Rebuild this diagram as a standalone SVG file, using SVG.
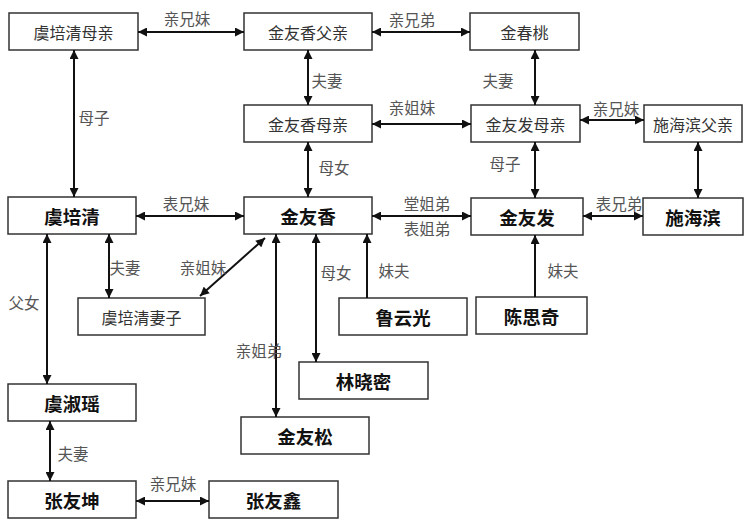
<svg xmlns="http://www.w3.org/2000/svg" width="750" height="526" viewBox="0 0 750 526">
<style>
.box{fill:#fff;stroke:#333;stroke-width:1.5}
.t{font-family:"Noto Sans CJK SC",sans-serif;font-size:16px;fill:#333;text-anchor:middle;dominant-baseline:central}
.b{font-family:"Noto Sans CJK SC",sans-serif;font-size:18.5px;font-weight:bold;fill:#111;text-anchor:middle;dominant-baseline:central}
.l{font-family:"Noto Sans CJK SC",sans-serif;font-size:15.5px;fill:#555;text-anchor:middle;dominant-baseline:central}
.c line{stroke:#111;stroke-width:2;marker-end:url(#ah)}
.c line.d{marker-start:url(#ah)}
</style>
<defs>
<marker id="ah" viewBox="0 0 10 10" refX="10" refY="5" markerWidth="10" markerHeight="9" markerUnits="userSpaceOnUse" orient="auto-start-reverse">
<path d="M0,0 L10,5 L0,10 z" fill="#111"/>
</marker>
</defs>
<rect width="750" height="526" fill="#fff"/>
<g id="n1"><rect class="box" x="9" y="13" width="129" height="37"/><text class="t" x="73.5" y="32">虞培清母亲</text></g>
<g id="n2"><rect class="box" x="244" y="13" width="128" height="37"/><text class="t" x="308" y="32">金友香父亲</text></g>
<g id="n3"><rect class="box" x="470" y="13" width="109" height="37"/><text class="t" x="524.5" y="32">金春桃</text></g>
<g id="n4"><rect class="box" x="244" y="105" width="128" height="37"/><text class="t" x="308" y="124">金友香母亲</text></g>
<g id="n5"><rect class="box" x="471" y="105" width="109" height="37"/><text class="t" x="525.5" y="124">金友发母亲</text></g>
<g id="n6"><rect class="box" x="644" y="105" width="98" height="37"/><text class="t" x="693" y="124">施海滨父亲</text></g>
<g id="n7"><rect class="box" x="8" y="197" width="128" height="37"/><text class="b" x="72" y="216">虞培清</text></g>
<g id="n8"><rect class="box" x="244" y="197" width="128" height="37"/><text class="b" x="308" y="216">金友香</text></g>
<g id="n9"><rect class="box" x="471" y="198" width="112" height="37"/><text class="b" x="527" y="217">金友发</text></g>
<g id="n10"><rect class="box" x="643" y="198" width="100" height="37"/><text class="b" x="693" y="217">施海滨</text></g>
<g id="n11"><rect class="box" x="78" y="298" width="127" height="37"/><text class="t" x="141.5" y="317">虞培清妻子</text></g>
<g id="n12"><rect class="box" x="339" y="298" width="128" height="37"/><text class="b" x="403" y="317">鲁云光</text></g>
<g id="n13"><rect class="box" x="476" y="297" width="111" height="37"/><text class="b" x="531.5" y="316">陈思奇</text></g>
<g id="n14"><rect class="box" x="299" y="362" width="129" height="37"/><text class="b" x="363.5" y="381">林晓密</text></g>
<g id="n15"><rect class="box" x="8" y="384" width="128" height="37"/><text class="b" x="72" y="403">虞淑瑶</text></g>
<g id="n16"><rect class="box" x="241" y="417" width="128" height="37"/><text class="b" x="305" y="436">金友松</text></g>
<g id="n17"><rect class="box" x="8" y="481" width="128" height="37"/><text class="b" x="72" y="500">张友坤</text></g>
<g id="n18"><rect class="box" x="209" y="481" width="129" height="37"/><text class="b" x="273.5" y="500">张友鑫</text></g>
<g id="connectors" class="c">
<line class="d" x1="138" y1="32" x2="244" y2="32"/>
<line class="d" x1="372" y1="32" x2="470" y2="32"/>
<line class="d" x1="308" y1="50" x2="308" y2="105"/>
<line class="d" x1="535" y1="50" x2="535" y2="105"/>
<line class="d" x1="372" y1="124" x2="471" y2="124"/>
<line class="d" x1="580" y1="120" x2="644" y2="120"/>
<line class="d" x1="74" y1="50" x2="74" y2="197"/>
<line class="d" x1="308" y1="142" x2="308" y2="197"/>
<line class="d" x1="535" y1="142" x2="535" y2="198"/>
<line class="d" x1="698" y1="142" x2="698" y2="198"/>
<line class="d" x1="136" y1="216" x2="244" y2="216"/>
<line class="d" x1="372" y1="216" x2="471" y2="216"/>
<line class="d" x1="583" y1="216" x2="643" y2="216"/>
<line class="d" x1="109" y1="234" x2="109" y2="298"/>
<line class="d" x1="200" y1="296" x2="265" y2="238"/>
<line class="d" x1="47" y1="234" x2="47" y2="384"/>
<line class="d" x1="276" y1="234" x2="276" y2="417"/>
<line class="d" x1="316" y1="234" x2="316" y2="362"/>
<line x1="367" y1="298" x2="367" y2="234"/>
<line x1="535" y1="297" x2="535" y2="235"/>
<line class="d" x1="50" y1="421" x2="50" y2="481"/>
<line class="d" x1="136" y1="501" x2="209" y2="501"/>
</g>
<g id="labels">
<text class="l" x="187" y="18">亲兄妹</text>
<text class="l" x="412" y="19">亲兄弟</text>
<text class="l" x="327" y="80">夫妻</text>
<text class="l" x="498" y="80">夫妻</text>
<text class="l" x="412" y="107">亲姐妹</text>
<text class="l" x="616" y="108">亲兄妹</text>
<text class="l" x="94" y="117">母子</text>
<text class="l" x="334" y="167">母女</text>
<text class="l" x="505" y="163">母子</text>
<text class="l" x="186" y="203">表兄妹</text>
<text class="l" x="427" y="203">堂姐弟</text>
<text class="l" x="427" y="228">表姐弟</text>
<text class="l" x="619" y="203">表兄弟</text>
<text class="l" x="125" y="267">夫妻</text>
<text class="l" x="203" y="267">亲姐妹</text>
<text class="l" x="24" y="302">父女</text>
<text class="l" x="336" y="272">母女</text>
<text class="l" x="394" y="270">妹夫</text>
<text class="l" x="563" y="270">妹夫</text>
<text class="l" x="259" y="350">亲姐弟</text>
<text class="l" x="73" y="453">夫妻</text>
<text class="l" x="173" y="483">亲兄妹</text>
</g>
</svg>
